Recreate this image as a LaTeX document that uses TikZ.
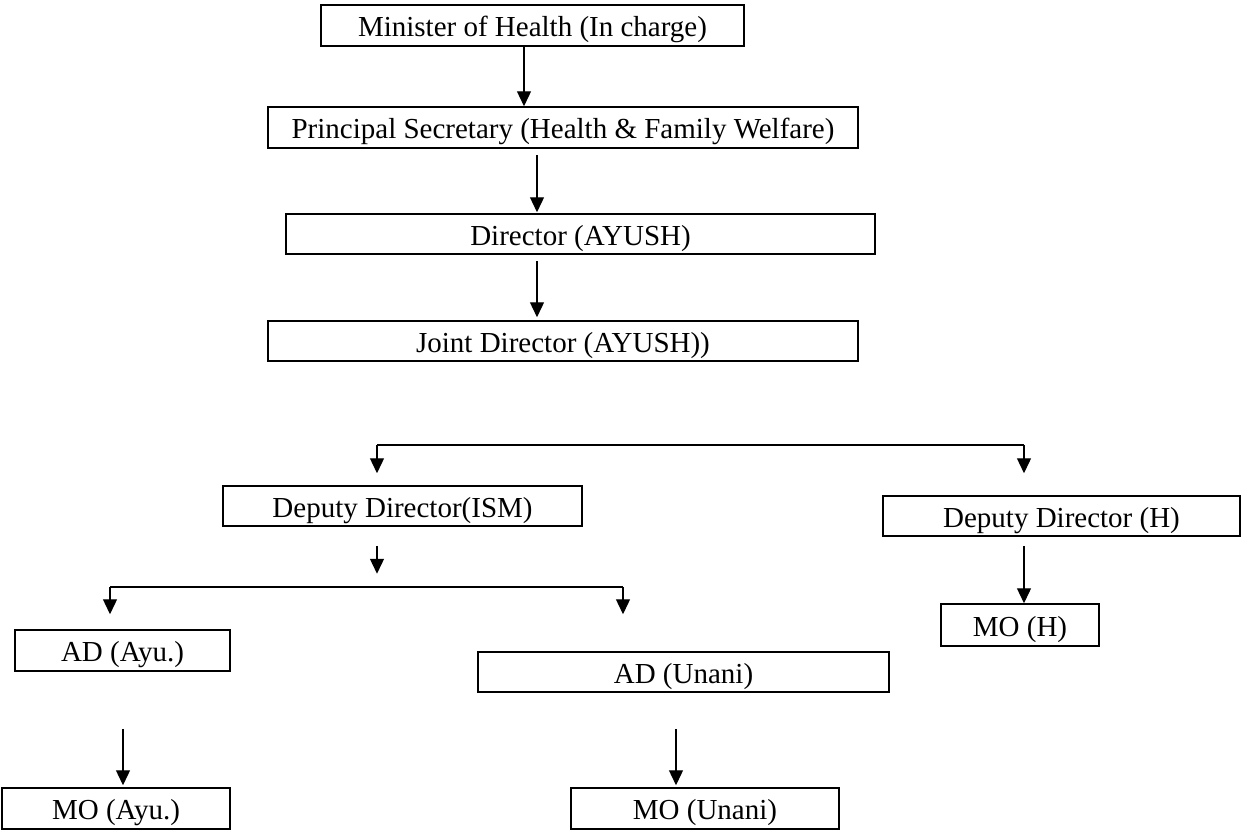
\documentclass[tikz,border=0pt]{standalone}
\usepackage{fontspec}
\setmainfont{Liberation Serif}
\usetikzlibrary{arrows.meta,calc}
\begin{document}
\begin{tikzpicture}[x=1pt,y=-1pt,
  box/.style={draw, line width=1.5pt, inner sep=0pt, text height=22pt, text depth=0pt,
    font=\fontsize{29}{34}\selectfont},
  arr/.style={line width=1.3pt, -{Triangle[length=15pt,width=14pt]}},
  link/.style={line width=1.2pt}]
\useasboundingbox (0,0) rectangle (1242,830);
\fill[white] (0,0) rectangle (1242,830);

\node[box, minimum width=423pt, minimum height=41pt] (min) at (532.5,25.5) {Minister of Health (In charge)};
\node[box, minimum width=590pt, minimum height=41pt] (ps) at (563,127.5) {Principal Secretary (Health \& Family Welfare)};
\node[box, minimum width=589pt, minimum height=40pt] (dir) at (580.5,234) {Director (AYUSH)};
\node[box, minimum width=590pt, minimum height=40pt] (jd) at (563,341) {Joint Director (AYUSH))};
\node[box, minimum width=359pt, minimum height=40pt] (ddi) at (402.5,506) {Deputy Director(ISM)};
\node[box, minimum width=357pt, minimum height=40pt] (ddh) at (1061.5,516) {Deputy Director (H)};
\node[box, minimum width=215pt, minimum height=41pt] (ada) at (122.5,650.5) {AD (Ayu.)};
\node[box, minimum width=411pt, minimum height=40pt] (adu) at (683.5,672) {AD (Unani)};
\node[box, minimum width=158pt, minimum height=42pt] (moh) at (1020,625) {MO (H)};
\node[box, minimum width=228pt, minimum height=41pt] (moa) at (116,808.5) {MO (Ayu.)};
\node[box, minimum width=268pt, minimum height=41pt] (mou) at (705,808.5) {MO (Unani)};

% column coordinates of the connectors
\coordinate (ax1) at (524,0);
\coordinate (ax2) at (537,0);
\coordinate (bl) at (377,445);
\coordinate (br) at (1024,445);
\coordinate (cl) at (110,587);
\coordinate (cr) at (623,587);
\coordinate (xa) at (123,0);
\coordinate (xu) at (676,0);

% top chain
\draw[arr] (min.south -| ax1) -- (ps.north -| ax1);
\draw[arr] ($(ps.south -| ax2)+(0,6)$) -- ($(dir.north -| ax2)+(0,-1)$);
\draw[arr] ($(dir.south -| ax2)+(0,6)$) -- ($(jd.north -| ax2)+(0,-3)$);

% upper bus
\draw[link] (bl) -- (br);
\draw[arr] (bl) -- ($(ddi.north -| bl)+(0,-12)$);
\draw[arr] (br) -- ($(ddh.north -| br)+(0,-22)$);

% ISM branch
\draw[arr] ($(ddi.south -| bl)+(0,19)$) -- ($(ddi.south -| bl)+(0,47)$);
\draw[link] (cl) -- (cr);
\draw[arr] (cl) -- ($(ada.north -| cl)+(0,-15)$);
\draw[arr] (cr) -- ($(adu.north -| cr)+(0,-37)$);

% lower arrows
\draw[arr] ($(ada.south -| xa)+(0,57)$) -- ($(moa.north -| xa)+(0,-2)$);
\draw[arr] ($(adu.south -| xu)+(0,36)$) -- ($(mou.north -| xu)+(0,-2)$);
\draw[arr] ($(ddh.south -| br)+(0,9)$) -- (moh.north -| br);
\end{tikzpicture}
\end{document}
